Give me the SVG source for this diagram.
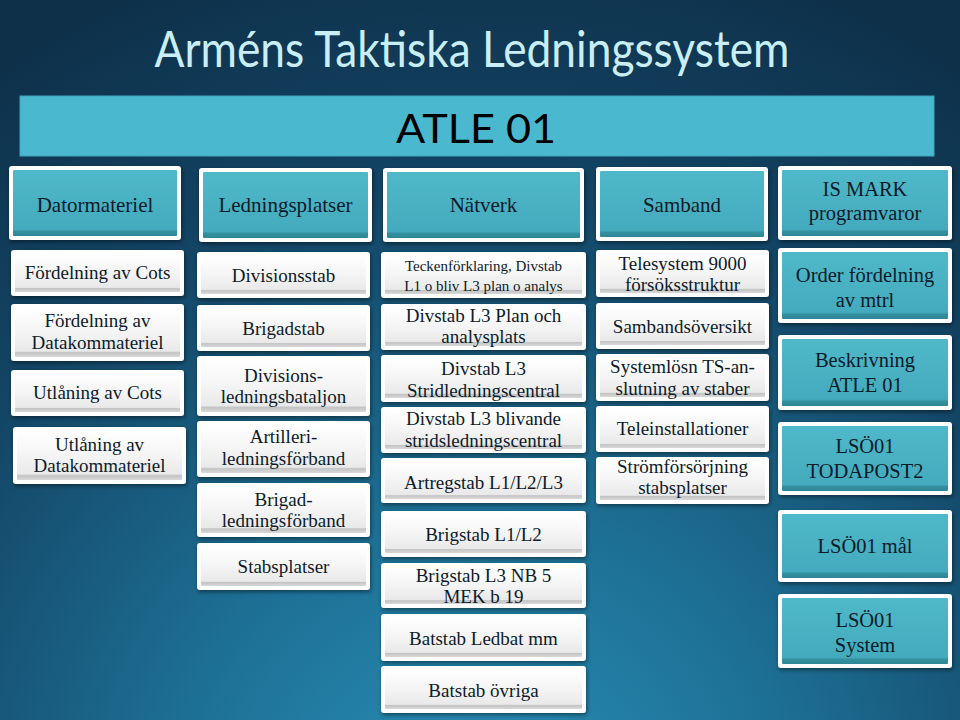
<svg xmlns="http://www.w3.org/2000/svg" width="960" height="720" viewBox="0 0 960 720">
<defs>
<radialGradient id="bg" cx="480" cy="820" r="900" gradientUnits="userSpaceOnUse">
<stop offset="0" stop-color="#2a90b8"/>
<stop offset="0.35" stop-color="#1d6f94"/>
<stop offset="0.7" stop-color="#134565"/>
<stop offset="1" stop-color="#0e3049"/>
</radialGradient>
<linearGradient id="tg" x1="0" y1="0" x2="0" y2="1">
<stop offset="0" stop-color="#4fb8c9"/>
<stop offset="0.9" stop-color="#43abbd"/>
<stop offset="0.93" stop-color="#33909f"/>
<stop offset="1" stop-color="#2e8595"/>
</linearGradient>
<linearGradient id="gg" x1="0" y1="0" x2="0" y2="1">
<stop offset="0" stop-color="#ffffff"/>
<stop offset="0.5" stop-color="#f4f4f4"/>
<stop offset="0.88" stop-color="#e9e9e9"/>
<stop offset="0.91" stop-color="#c4c4c4"/>
<stop offset="1" stop-color="#d9d9d9"/>
</linearGradient>
<filter id="sh" x="-10%" y="-10%" width="120%" height="130%">
<feDropShadow dx="1" dy="2" stdDeviation="2" flood-color="#000" flood-opacity="0.45"/>
</filter>
<style>
.o{fill:#ffffff;filter:url(#sh)}
.t{fill:url(#tg)}
.g{fill:url(#gg)}
.n text{fill:#0d1b2a;text-anchor:middle}
.s{font-size:19px}
.h{font-size:21px}
.k{font-size:20.5px}
.m{font-size:15px}
</style>
</defs>
<rect width="960" height="720" fill="url(#bg)"/>
<text x="472" y="67" font-family="Lato, 'Open Sans', sans-serif" font-size="50" fill="#c9eef5" text-anchor="middle" textLength="635" lengthAdjust="spacingAndGlyphs">Arméns Taktiska Ledningssystem</text>

<g id="atle">
<rect x="20" y="96" width="914" height="60" fill="#4ab9cf" stroke="#3ea5ba" stroke-width="1"/>
<text x="476" y="143" font-family="Lato, 'Open Sans', sans-serif" font-size="40" fill="#000" text-anchor="middle" textLength="160" lengthAdjust="spacingAndGlyphs">ATLE 01</text>
</g>

<g class="n" font-family="Tinos, 'Times New Roman', 'Liberation Serif', serif">
<!-- headers -->
<g id="datormateriel"><rect class="o" x="9" y="166" width="172" height="74" rx="3"/><rect class="t" x="13" y="170" width="164" height="66" rx="1"/><text class="h" x="95" y="212">Datormateriel</text></g>
<g id="ledningsplatser"><rect class="o" x="199" y="168" width="173" height="74" rx="3"/><rect class="t" x="203" y="172" width="165" height="66" rx="1"/><text class="h" x="285.5" y="212">Ledningsplatser</text></g>
<g id="natverk"><rect class="o" x="383" y="168" width="201" height="74" rx="3"/><rect class="t" x="387" y="172" width="193" height="66" rx="1"/><text class="h" x="483.5" y="212">Nätverk</text></g>
<g id="samband"><rect class="o" x="596" y="167" width="172" height="74" rx="3"/><rect class="t" x="600" y="171" width="164" height="66" rx="1"/><text class="h" x="682" y="212">Samband</text></g>
<g id="ismark"><rect class="o" x="778" y="166" width="174" height="74" rx="3"/><rect class="t" x="782" y="170" width="166" height="66" rx="1"/><text class="k" x="865" y="196">IS  MARK</text><text class="k" x="865" y="220">programvaror</text></g>

<!-- column 1 -->
<g id="c1a"><rect class="o" x="11" y="250" width="173" height="46" rx="3"/><rect class="g" x="15" y="254" width="165" height="38" rx="1"/><text class="s" x="97.5" y="279">Fördelning av Cots</text></g>
<g id="c1b"><rect class="o" x="11" y="304" width="173" height="57" rx="3"/><rect class="g" x="15" y="308" width="165" height="49" rx="1"/><text class="s" x="97.5" y="327">Fördelning  av</text><text class="s" x="97.5" y="349">Datakommateriel</text></g>
<g id="c1c"><rect class="o" x="11" y="370" width="173" height="46" rx="3"/><rect class="g" x="15" y="374" width="165" height="38" rx="1"/><text class="s" x="97.5" y="399">Utlåning  av Cots</text></g>
<g id="c1d"><rect class="o" x="13" y="427" width="173" height="57" rx="3"/><rect class="g" x="17" y="431" width="165" height="49" rx="1"/><text class="s" x="99.5" y="451">Utlåning  av</text><text class="s" x="99.5" y="472">Datakommateriel</text></g>

<!-- column 2 -->
<g id="c2a"><rect class="o" x="197" y="252" width="173" height="46" rx="3"/><rect class="g" x="201" y="256" width="165" height="38" rx="1"/><text class="s" x="283.5" y="282">Divisionsstab</text></g>
<g id="c2b"><rect class="o" x="197" y="305" width="173" height="46" rx="3"/><rect class="g" x="201" y="309" width="165" height="38" rx="1"/><text class="s" x="283.5" y="335">Brigadstab</text></g>
<g id="c2c"><rect class="o" x="197" y="356" width="173" height="60" rx="3"/><rect class="g" x="201" y="360" width="165" height="52" rx="1"/><text class="s" x="283.5" y="382">Divisions-</text><text class="s" x="283.5" y="403">ledningsbataljon</text></g>
<g id="c2d"><rect class="o" x="197" y="421" width="173" height="56" rx="3"/><rect class="g" x="201" y="425" width="165" height="48" rx="1"/><text class="s" x="283.5" y="443">Artilleri-</text><text class="s" x="283.5" y="465">ledningsförband</text></g>
<g id="c2e"><rect class="o" x="197" y="483" width="173" height="54" rx="3"/><rect class="g" x="201" y="487" width="165" height="46" rx="1"/><text class="s" x="283.5" y="506">Brigad-</text><text class="s" x="283.5" y="527">ledningsförband</text></g>
<g id="c2f"><rect class="o" x="197" y="543" width="173" height="47" rx="3"/><rect class="g" x="201" y="547" width="165" height="39" rx="1"/><text class="s" x="283.5" y="573">Stabsplatser</text></g>

<!-- column 3 -->
<g id="c3a"><rect class="o" x="381" y="252" width="205" height="46" rx="3"/><rect class="g" x="385" y="256" width="197" height="38" rx="1"/><text class="m" x="483.5" y="271">Teckenförklaring,  Divstab</text><text class="m" x="483.5" y="291">L1 o bliv  L3 plan o analys</text></g>
<g id="c3b"><rect class="o" x="381" y="304" width="205" height="46" rx="3"/><rect class="g" x="385" y="308" width="197" height="38" rx="1"/><text class="s" x="483.5" y="322">Divstab L3 Plan och</text><text class="s" x="483.5" y="343">analysplats</text></g>
<g id="c3c"><rect class="o" x="381" y="355" width="205" height="47" rx="3"/><rect class="g" x="385" y="359" width="197" height="39" rx="1"/><text class="s" x="483.5" y="375">Divstab L3</text><text class="s" x="483.5" y="397">Stridledningscentral</text></g>
<g id="c3d"><rect class="o" x="381" y="407" width="205" height="46" rx="3"/><rect class="g" x="385" y="411" width="197" height="38" rx="1"/><text class="s" x="483.5" y="425">Divstab L3 blivande</text><text class="s" x="483.5" y="447">stridsledningscentral</text></g>
<g id="c3e"><rect class="o" x="381" y="458" width="205" height="45" rx="3"/><rect class="g" x="385" y="462" width="197" height="37" rx="1"/><text class="s" x="483.5" y="489">Artregstab L1/L2/L3</text></g>
<g id="c3f"><rect class="o" x="381" y="511" width="205" height="46" rx="3"/><rect class="g" x="385" y="515" width="197" height="38" rx="1"/><text class="s" x="483.5" y="541">Brigstab L1/L2</text></g>
<g id="c3g"><rect class="o" x="381" y="563" width="205" height="45" rx="3"/><rect class="g" x="385" y="567" width="197" height="37" rx="1"/><text class="s" x="483.5" y="582">Brigstab L3 NB  5</text><text class="s" x="483.5" y="603">MEK  b 19</text></g>
<g id="c3h"><rect class="o" x="381" y="614" width="205" height="47" rx="3"/><rect class="g" x="385" y="618" width="197" height="39" rx="1"/><text class="s" x="483.5" y="645">Batstab Ledbat mm</text></g>
<g id="c3i"><rect class="o" x="381" y="666" width="205" height="47" rx="3"/><rect class="g" x="385" y="670" width="197" height="39" rx="1"/><text class="s" x="483.5" y="697">Batstab övriga</text></g>

<!-- column 4 -->
<g id="c4a"><rect class="o" x="596" y="250" width="173" height="47" rx="3"/><rect class="g" x="600" y="254" width="165" height="39" rx="1"/><text class="s" x="682.5" y="270">Telesystem 9000</text><text class="s" x="682.5" y="291">försöksstruktur</text></g>
<g id="c4b"><rect class="o" x="596" y="303" width="173" height="46" rx="3"/><rect class="g" x="600" y="307" width="165" height="38" rx="1"/><text class="s" x="682.5" y="333">Sambandsöversikt</text></g>
<g id="c4c"><rect class="o" x="596" y="354" width="173" height="47" rx="3"/><rect class="g" x="600" y="358" width="165" height="39" rx="1"/><text class="s" x="682.5" y="373">Systemlösn TS-an-</text><text class="s" x="682.5" y="395">slutning  av staber</text></g>
<g id="c4d"><rect class="o" x="596" y="406" width="173" height="46" rx="3"/><rect class="g" x="600" y="410" width="165" height="38" rx="1"/><text class="s" x="682.5" y="435">Teleinstallationer</text></g>
<g id="c4e"><rect class="o" x="596" y="457" width="173" height="47" rx="3"/><rect class="g" x="600" y="461" width="165" height="39" rx="1"/><text class="s" x="682.5" y="473">Strömförsörjning</text><text class="s" x="682.5" y="494">stabsplatser</text></g>

<!-- column 5 -->
<g id="c5a"><rect class="o" x="778" y="248" width="174" height="75" rx="3"/><rect class="t" x="782" y="252" width="166" height="67" rx="1"/><text class="k" x="865" y="282">Order  fördelning</text><text class="k" x="865" y="307">av mtrl</text></g>
<g id="c5b"><rect class="o" x="778" y="335" width="174" height="75" rx="3"/><rect class="t" x="782" y="339" width="166" height="67" rx="1"/><text class="k" x="865" y="367">Beskrivning</text><text class="k" x="865" y="392">ATLE  01</text></g>
<g id="c5c"><rect class="o" x="778" y="422" width="174" height="73" rx="3"/><rect class="t" x="782" y="426" width="166" height="65" rx="1"/><text class="k" x="865" y="453">LSÖ01</text><text class="k" x="865" y="478">TODAPOST2</text></g>
<g id="c5d"><rect class="o" x="778" y="510" width="174" height="72" rx="3"/><rect class="t" x="782" y="514" width="166" height="64" rx="1"/><text class="k" x="865" y="553">LSÖ01  mål</text></g>
<g id="c5e"><rect class="o" x="778" y="594" width="174" height="74" rx="3"/><rect class="t" x="782" y="598" width="166" height="66" rx="1"/><text class="k" x="865" y="627">LSÖ01</text><text class="k" x="865" y="652">System</text></g>
</g>
</svg>
